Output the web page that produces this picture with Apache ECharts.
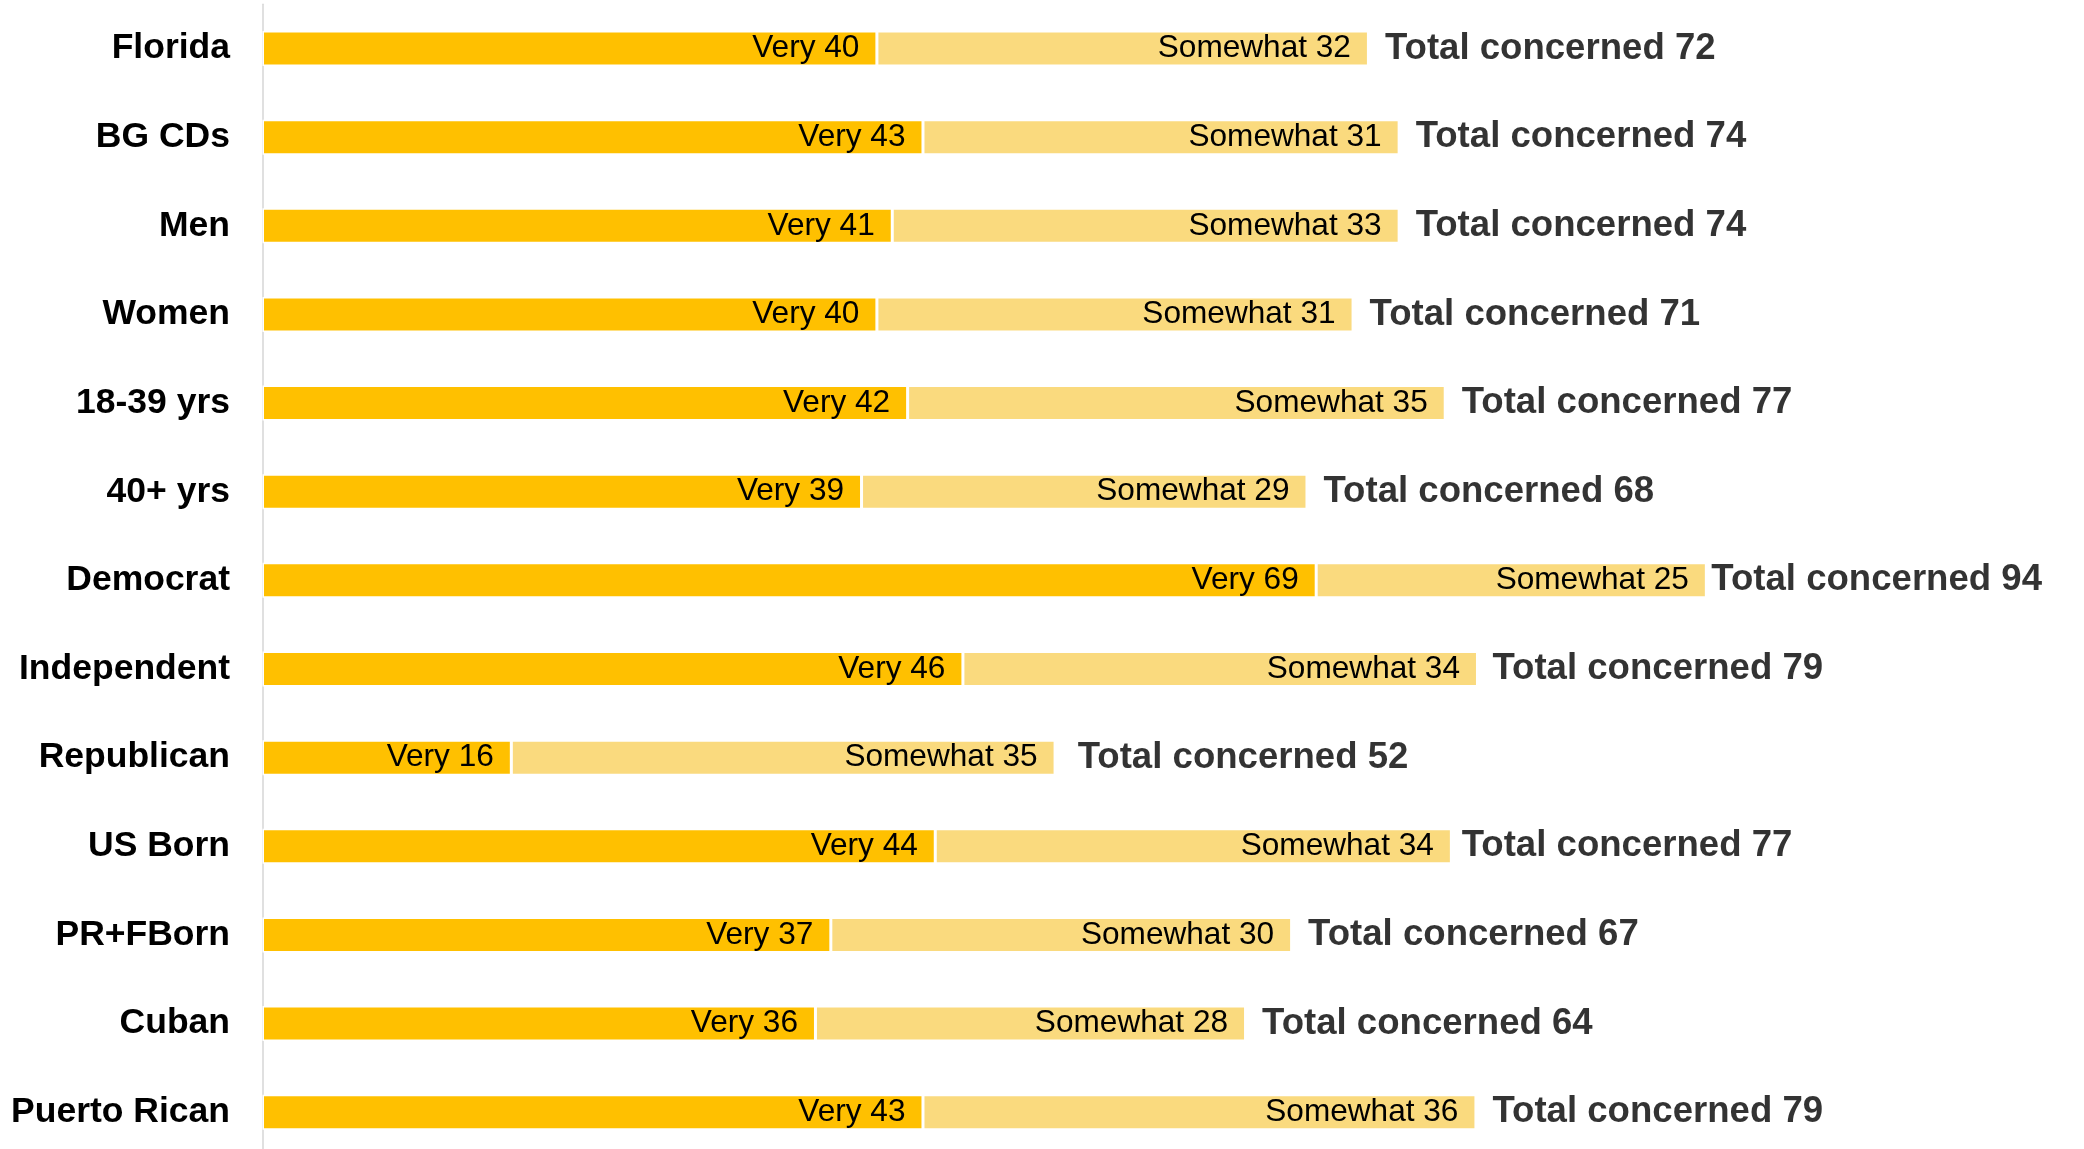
<!DOCTYPE html>
<html>
<head>
<meta charset="utf-8">
<title>Concern by group</title>
<script src="https://cdn.jsdelivr.net/npm/echarts@6/dist/echarts.min.js"></script>
<style>
  html, body { margin: 0; padding: 0; background: #fff; }
  #chart { width: 2084px; height: 1149px; }
</style>
</head>
<body>
<div id="chart"></div>
<script>
  // groups, top to bottom
  var groups = ["Florida", "BG CDs", "Men", "Women", "18-39 yrs", "40+ yrs", "Democrat",
    "Independent", "Republican", "US Born", "PR+FBorn", "Cuban", "Puerto Rican"];
  // bar lengths (the printed labels are rounded)
  var very = [40, 43, 41, 40, 42, 39, 68.6, 45.6, 16.2, 43.8, 37, 36, 43];
  var somewhat = [32, 31, 33, 31, 35, 29, 25.4, 33.5, 35.4, 33.6, 30, 28, 36];
  var totals = [72, 74, 74, 71, 77, 68, 94, 79, 52, 77, 67, 64, 79];

  var FONT = "'Liberation Sans', Arial, sans-serif";
  var NUDGE = [2.6, 0, 0, 0]; // glyphs sit a touch lower in the original

  var chart = echarts.init(document.getElementById("chart"), null, { renderer: "canvas" });

  function innerLabel(prefix) {
    return {
      show: true,
      position: "insideRight",
      distance: 17.5,
      padding: NUDGE,
      color: "#000",
      fontFamily: FONT,
      fontSize: 31.6,
      formatter: function (p) { return prefix + Math.round(p.value); }
    };
  }

  chart.setOption({
    backgroundColor: "#fff",
    animation: false,
    // the last row runs a little past the bottom edge, as in the original
    grid: {
      left: 262.5, width: 1536, top: 4.2, height: 1152.3,
      containLabel: false, outerBoundsMode: "none"
    },
    xAxis: { type: "value", min: 0, max: 100, show: false },
    yAxis: {
      type: "category",
      data: groups,
      inverse: true,
      axisLine: { show: true, lineStyle: { color: "#d9d9d9", width: 1.6 } },
      axisTick: { show: false },
      axisLabel: {
        margin: 32.5,
        padding: NUDGE,
        color: "#000",
        fontFamily: FONT,
        fontWeight: "bold",
        fontSize: 35.5
      },
      splitLine: { show: false }
    },
    series: [
      {
        name: "Very",
        type: "bar",
        stack: "c",
        barWidth: 35,
        data: very,
        itemStyle: { color: "#ffc000", borderColor: "#fff", borderWidth: 1.5 },
        label: innerLabel("Very ")
      },
      {
        name: "Somewhat",
        type: "bar",
        stack: "c",
        barWidth: 35,
        data: somewhat,
        itemStyle: { color: "#fada7e", borderColor: "#fff", borderWidth: 1.5 },
        label: innerLabel("Somewhat ")
      },
      {
        name: "Total",
        type: "scatter",
        symbolSize: 0,
        itemStyle: { color: "transparent" },
        data: totals.map(function (t, i) {
          var item = { value: [t, groups[i]] };
          // the longest label sits closer to its bar
          if (groups[i] === "Democrat") item.label = { distance: 5 };
          return item;
        }),
        label: {
          show: true,
          position: "right",
          distance: 16.5,
          padding: NUDGE,
          color: "#000",
          fontFamily: FONT,
          fontWeight: "bold",
          fontSize: 36.6,
          formatter: function (p) { return "Total concerned " + p.value[0]; }
        }
      }
    ]
  });
</script>
</body>
</html>
